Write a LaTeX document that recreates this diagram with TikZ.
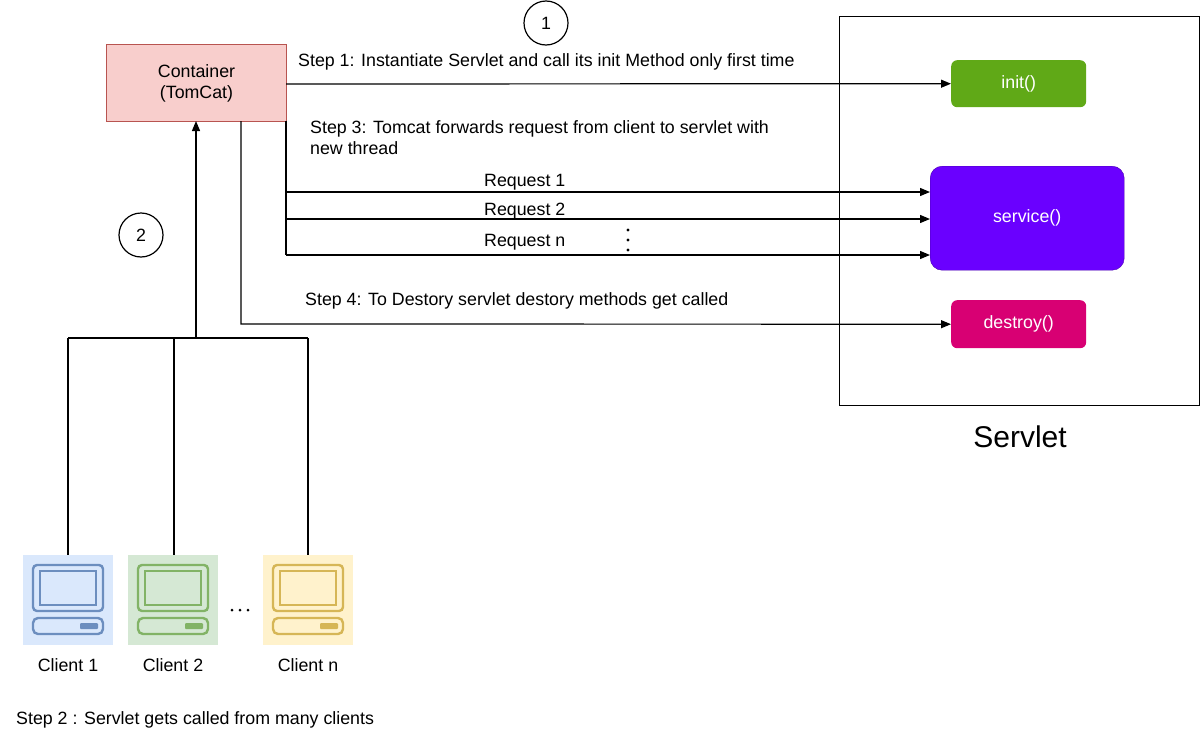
\documentclass[tikz,border=0pt]{standalone}
\usepackage{fontspec}
\setmainfont{Liberation Sans}
\usetikzlibrary{arrows.meta}
\definecolor{cfill}{HTML}{F8CECC}\definecolor{cline}{HTML}{B85450}
\definecolor{ginit}{HTML}{60A917}\definecolor{gserv}{HTML}{6A00FF}\definecolor{gdes}{HTML}{D80073}
\definecolor{b1}{HTML}{DAE8FC}\definecolor{b2}{HTML}{6C8EBF}
\definecolor{g1}{HTML}{D5E8D4}\definecolor{g2}{HTML}{82B366}
\definecolor{y1}{HTML}{FFF2CC}\definecolor{y2}{HTML}{D6B656}
\tikzset{lbl/.style={font=\fontsize{17.8}{21}\selectfont,inner sep=0pt},
arr/.style={-{Triangle[length=10pt,width=8pt]},line width=1.2pt},
ln/.style={line width=1.2pt},
meth/.style={rounded corners=6pt,text=white,font=\fontsize{17.8}{21}\selectfont,inner sep=0pt},
circ/.style={circle,draw,line width=1.2pt,minimum size=44pt,inner sep=0pt,font=\fontsize{17.8}{21}\selectfont}}
\newcommand{\client}[4]{%
\fill[#2] (#1,555) rectangle ++(90,90);
\begin{scope}[shift={(#1,555)},draw=#3,line width=2.4pt]
\draw[rounded corners=4pt] (10,10) rectangle (80,56);
\draw (17,16) rectangle (73,50);
\draw[rounded corners=5pt] (10,63) rectangle (80,79);
\fill[#3,rounded corners=1pt] (57,68) rectangle (75,74);
\end{scope}
\coordinate (#4) at (#1+45,555);}
\begin{document}
\begin{tikzpicture}[x=1pt,y=-1pt]
\useasboundingbox (0,0) rectangle (1200,736);
\fill[white] (0,0) rectangle (1200,736);
\node[draw=cline,fill=cfill,line width=1pt,minimum width=180pt,minimum height=77pt,anchor=north west,align=center,font=\fontsize{17.8}{21}\selectfont] (cont) at (106,44) {Container\\(TomCat)};
\node[circ] (c1) at (546,23) {1};
\node[circ] (c2) at (141,235) {2};
\node[draw,line width=1.2pt,minimum width=360pt,minimum height=389pt,anchor=north west] (sv) at (839,16) {};
\node[font=\fontsize{30}{34}\selectfont,inner sep=0pt] (svl) at (1020,437) {Servlet};
\node[meth,fill=ginit,minimum width=135pt,minimum height=47pt,anchor=north west] (init) at (951,60) {init()};
\node[meth,fill=gserv,draw=gserv!70!black,rounded corners=12pt,minimum width=194pt,minimum height=104pt,anchor=north west] (serv) at (930,166) {service()};
\node[meth,fill=gdes,minimum width=135pt,minimum height=48pt,anchor=north west] (des) at (951,300) {destroy()};
\draw[arr] (286,84) -- (init.west);
\node[lbl,anchor=west] (t1) at (298,62) {Step 1: Instantiate Servlet and call its init Method only first time};
\node[lbl,anchor=north west,align=left] (t3) at (310,120) {Step 3: Tomcat forwards request from client to servlet with\\new thread};
\coordinate (rtop) at (286,121);
\draw[ln] (rtop) -- (286,255);
\draw[arr] (286,192) -- (930,192);
\draw[arr] (286,219) -- (930,219);
\draw[arr] (286,255) -- (930,255);
\node[lbl,anchor=west] (r1) at (484,182) {Request 1};
\node[lbl,anchor=west] (r2) at (484,211) {Request 2};
\node[lbl,anchor=west] (rn) at (484,242) {Request n};
\foreach \yy in {230,240,250} \fill (628,\yy) circle (1.7pt);
\draw[arr] (241,121) -- (241,324) -- (des.west);
\node[lbl,anchor=west] (t4) at (305,301) {Step 4: To Destory servlet destory methods get called};
\draw[arr] (196,338) -- (196,121);
\draw[ln] (68,338) -- (308,338);
\foreach \xx in {68,174,308} \draw[ln] (\xx,338) -- (\xx,555);
\client{23}{b1}{b2}{k1}
\client{128}{g1}{g2}{k2}
\client{263}{y1}{y2}{k3}
\node[lbl] at (68,665) {Client 1};
\node[lbl] at (173,665) {Client 2};
\node[lbl] at (308,665) {Client n};
\foreach \xx in {232,240,248} \fill (\xx,610) circle (1.5pt);
\node[lbl,anchor=west] (t2) at (16,720) {Step 2 : Servlet gets called from many clients};
\end{tikzpicture}
\end{document}
